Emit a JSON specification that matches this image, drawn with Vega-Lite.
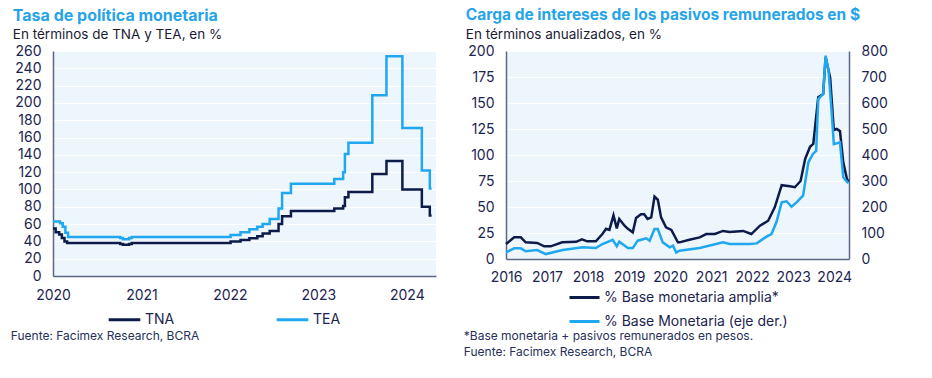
{
  "$schema": "https://vega.github.io/schema/vega-lite/v6.json",
  "padding": {"left": 10, "top": 7, "right": 5, "bottom": 5},
  "background": "white",
  "config": {
    "font": "Inter",
    "view": {"fill": "#eef6fd", "stroke": null},
    "axis": {"domainColor": "#5b6784", "domainWidth": 1.5, "ticks": false, "labelFont": "Inter", "labelFontSize": 14, "labelColor": "#1c2450", "title": null, "gridColor": "#ffffff", "gridWidth": 1, "labelFlush": false},
    "legend": {"symbolType": "M-1,0H1", "symbolStrokeWidth": 3, "symbolSize": 1000, "labelFont": "Inter", "labelFontSize": 14, "labelColor": "#1c2450", "title": null, "labelOffset": 3, "rowPadding": 3, "labelLimit": 400, "layout": {"bottom": {"anchor": "middle"}}},
    "title": {"anchor": "start", "frame": "bounds", "font": "Inter", "fontSize": 16, "fontWeight": "bold", "color": "#27a4e8", "subtitleFont": "Inter", "subtitleFontSize": 13.5, "subtitleColor": "#1b1b35", "subtitlePadding": 4, "offset": 3, "dx": -2},
    "concat": {"spacing": 26}
  },
  "resolve": {"scale": {"color": "independent"}, "legend": {"color": "independent"}},
  "hconcat": [
    {
      "title": {"text": "Fuente: Facimex Research, BCRA", "orient": "bottom", "anchor": "start", "frame": "bounds", "fontSize": 12, "fontWeight": "normal", "color": "#27305a", "offset": 4},
      "resolve": {"scale": {"color": "independent"}, "legend": {"color": "independent"}},
      "vconcat": [
        {
          "width": 383,
          "height": 225,
          "title": {"text": "Tasa de política monetaria", "subtitle": "En términos de TNA y TEA, en %"},
          "data": {"values": [
            {"serie": "TNA", "anio": 2020.0, "tasa": 55},
            {"serie": "TNA", "anio": 2020.03, "tasa": 50.5},
            {"serie": "TNA", "anio": 2020.07, "tasa": 48},
            {"serie": "TNA", "anio": 2020.1, "tasa": 44},
            {"serie": "TNA", "anio": 2020.13, "tasa": 40},
            {"serie": "TNA", "anio": 2020.16, "tasa": 38},
            {"serie": "TNA", "anio": 2020.76, "tasa": 37},
            {"serie": "TNA", "anio": 2020.79, "tasa": 36},
            {"serie": "TNA", "anio": 2020.86, "tasa": 37},
            {"serie": "TNA", "anio": 2020.89, "tasa": 38},
            {"serie": "TNA", "anio": 2022.008, "tasa": 40},
            {"serie": "TNA", "anio": 2022.12, "tasa": 41.5},
            {"serie": "TNA", "anio": 2022.22, "tasa": 43.5},
            {"serie": "TNA", "anio": 2022.31, "tasa": 46},
            {"serie": "TNA", "anio": 2022.37, "tasa": 49},
            {"serie": "TNA", "anio": 2022.45, "tasa": 52},
            {"serie": "TNA", "anio": 2022.55, "tasa": 60},
            {"serie": "TNA", "anio": 2022.59, "tasa": 69},
            {"serie": "TNA", "anio": 2022.69, "tasa": 75},
            {"serie": "TNA", "anio": 2023.18, "tasa": 78},
            {"serie": "TNA", "anio": 2023.28, "tasa": 81},
            {"serie": "TNA", "anio": 2023.3, "tasa": 91},
            {"serie": "TNA", "anio": 2023.34, "tasa": 97},
            {"serie": "TNA", "anio": 2023.61, "tasa": 118},
            {"serie": "TNA", "anio": 2023.77, "tasa": 133},
            {"serie": "TNA", "anio": 2023.95, "tasa": 100},
            {"serie": "TNA", "anio": 2024.17, "tasa": 80},
            {"serie": "TNA", "anio": 2024.26, "tasa": 70},
            {"serie": "TNA", "anio": 2024.28, "tasa": 70},
            {"serie": "TEA", "anio": 2020.0, "tasa": 63},
            {"serie": "TEA", "anio": 2020.08, "tasa": 61},
            {"serie": "TEA", "anio": 2020.11, "tasa": 57},
            {"serie": "TEA", "anio": 2020.14, "tasa": 50},
            {"serie": "TEA", "anio": 2020.17, "tasa": 45},
            {"serie": "TEA", "anio": 2020.76, "tasa": 44},
            {"serie": "TEA", "anio": 2020.79, "tasa": 42.5},
            {"serie": "TEA", "anio": 2020.86, "tasa": 44},
            {"serie": "TEA", "anio": 2020.89, "tasa": 45},
            {"serie": "TEA", "anio": 2022.008, "tasa": 47.5},
            {"serie": "TEA", "anio": 2022.12, "tasa": 50.5},
            {"serie": "TEA", "anio": 2022.22, "tasa": 54},
            {"serie": "TEA", "anio": 2022.31, "tasa": 57},
            {"serie": "TEA", "anio": 2022.37, "tasa": 60},
            {"serie": "TEA", "anio": 2022.45, "tasa": 66},
            {"serie": "TEA", "anio": 2022.55, "tasa": 78},
            {"serie": "TEA", "anio": 2022.59, "tasa": 96},
            {"serie": "TEA", "anio": 2022.69, "tasa": 106.5},
            {"serie": "TEA", "anio": 2023.18, "tasa": 112},
            {"serie": "TEA", "anio": 2023.28, "tasa": 120},
            {"serie": "TEA", "anio": 2023.3, "tasa": 141},
            {"serie": "TEA", "anio": 2023.34, "tasa": 154},
            {"serie": "TEA", "anio": 2023.61, "tasa": 209},
            {"serie": "TEA", "anio": 2023.77, "tasa": 254},
            {"serie": "TEA", "anio": 2023.95, "tasa": 171},
            {"serie": "TEA", "anio": 2024.17, "tasa": 122},
            {"serie": "TEA", "anio": 2024.26, "tasa": 101},
            {"serie": "TEA", "anio": 2024.28, "tasa": 101}
          ]},
          "mark": {"type": "line", "interpolate": "step-after", "strokeWidth": 2.5},
          "encoding": {
            "x": {"field": "anio", "type": "quantitative", "scale": {"domain": [2020, 2024.33], "nice": false, "zero": false}, "axis": {"values": [2020, 2021, 2022, 2023, 2024], "format": "d", "grid": false, "labelPadding": 12}},
            "y": {"field": "tasa", "type": "quantitative", "scale": {"domain": [0, 260], "nice": false}, "axis": {"values": [0, 20, 40, 60, 80, 100, 120, 140, 160, 180, 200, 220, 240, 260], "labelPadding": 12}},
            "color": {"field": "serie", "type": "nominal", "scale": {"domain": ["TNA", "TEA"], "range": ["#0d1b4b", "#1fa7ef"]}, "legend": {"orient": "none", "direction": "horizontal", "columnPadding": 95, "legendX": 54, "legendY": 251, "labelBaseline": "middle"}}
          }
        }
      ]
    },
    {
      "title": {"text": ["*Base monetaria + pasivos remunerados en pesos.", "Fuente: Facimex Research, BCRA"], "orient": "bottom", "anchor": "start", "frame": "bounds", "fontSize": 12, "fontWeight": "normal", "color": "#27305a", "offset": 2, "lineHeight": 16},
      "resolve": {"scale": {"color": "independent"}, "legend": {"color": "independent"}},
      "vconcat": [
        {
          "width": 343,
          "height": 208,
          "title": {"text": "Carga de intereses de los pasivos remunerados en $", "subtitle": "En términos anualizados, en %", "fontSize": 15.5},
          "data": {"values": [
            {"serie": "% Base monetaria amplia*", "anio": 2016.0, "valor": 14.4},
            {"serie": "% Base monetaria amplia*", "anio": 2016.2, "valor": 20.8},
            {"serie": "% Base monetaria amplia*", "anio": 2016.36, "valor": 20.8},
            {"serie": "% Base monetaria amplia*", "anio": 2016.48, "valor": 16},
            {"serie": "% Base monetaria amplia*", "anio": 2016.76, "valor": 15.5},
            {"serie": "% Base monetaria amplia*", "anio": 2016.93, "valor": 12.2},
            {"serie": "% Base monetaria amplia*", "anio": 2017.09, "valor": 12.2},
            {"serie": "% Base monetaria amplia*", "anio": 2017.37, "valor": 16},
            {"serie": "% Base monetaria amplia*", "anio": 2017.71, "valor": 16.5},
            {"serie": "% Base monetaria amplia*", "anio": 2017.85, "valor": 19},
            {"serie": "% Base monetaria amplia*", "anio": 2017.98, "valor": 17},
            {"serie": "% Base monetaria amplia*", "anio": 2018.19, "valor": 17},
            {"serie": "% Base monetaria amplia*", "anio": 2018.35, "valor": 24},
            {"serie": "% Base monetaria amplia*", "anio": 2018.44, "valor": 29},
            {"serie": "% Base monetaria amplia*", "anio": 2018.52, "valor": 28},
            {"serie": "% Base monetaria amplia*", "anio": 2018.62, "valor": 42},
            {"serie": "% Base monetaria amplia*", "anio": 2018.7, "valor": 29.5},
            {"serie": "% Base monetaria amplia*", "anio": 2018.76, "valor": 38.5},
            {"serie": "% Base monetaria amplia*", "anio": 2018.89, "valor": 32},
            {"serie": "% Base monetaria amplia*", "anio": 2018.97, "valor": 29},
            {"serie": "% Base monetaria amplia*", "anio": 2019.09, "valor": 25.6},
            {"serie": "% Base monetaria amplia*", "anio": 2019.17, "valor": 39.4},
            {"serie": "% Base monetaria amplia*", "anio": 2019.29, "valor": 43},
            {"serie": "% Base monetaria amplia*", "anio": 2019.37, "valor": 43},
            {"serie": "% Base monetaria amplia*", "anio": 2019.45, "valor": 38.5},
            {"serie": "% Base monetaria amplia*", "anio": 2019.54, "valor": 40},
            {"serie": "% Base monetaria amplia*", "anio": 2019.62, "valor": 60},
            {"serie": "% Base monetaria amplia*", "anio": 2019.7, "valor": 57},
            {"serie": "% Base monetaria amplia*", "anio": 2019.78, "valor": 40},
            {"serie": "% Base monetaria amplia*", "anio": 2019.9, "valor": 30.4},
            {"serie": "% Base monetaria amplia*", "anio": 2020.03, "valor": 28},
            {"serie": "% Base monetaria amplia*", "anio": 2020.15, "valor": 19},
            {"serie": "% Base monetaria amplia*", "anio": 2020.19, "valor": 16},
            {"serie": "% Base monetaria amplia*", "anio": 2020.23, "valor": 16},
            {"serie": "% Base monetaria amplia*", "anio": 2020.47, "valor": 18.5},
            {"serie": "% Base monetaria amplia*", "anio": 2020.72, "valor": 20.8},
            {"serie": "% Base monetaria amplia*", "anio": 2020.88, "valor": 24},
            {"serie": "% Base monetaria amplia*", "anio": 2021.09, "valor": 24},
            {"serie": "% Base monetaria amplia*", "anio": 2021.29, "valor": 27},
            {"serie": "% Base monetaria amplia*", "anio": 2021.45, "valor": 26},
            {"serie": "% Base monetaria amplia*", "anio": 2021.78, "valor": 27},
            {"serie": "% Base monetaria amplia*", "anio": 2021.98, "valor": 24},
            {"serie": "% Base monetaria amplia*", "anio": 2022.19, "valor": 32},
            {"serie": "% Base monetaria amplia*", "anio": 2022.39, "valor": 36.8},
            {"serie": "% Base monetaria amplia*", "anio": 2022.55, "valor": 49.7},
            {"serie": "% Base monetaria amplia*", "anio": 2022.72, "valor": 71},
            {"serie": "% Base monetaria amplia*", "anio": 2022.92, "valor": 70},
            {"serie": "% Base monetaria amplia*", "anio": 2023.04, "valor": 69},
            {"serie": "% Base monetaria amplia*", "anio": 2023.18, "valor": 75},
            {"serie": "% Base monetaria amplia*", "anio": 2023.29, "valor": 96},
            {"serie": "% Base monetaria amplia*", "anio": 2023.41, "valor": 108},
            {"serie": "% Base monetaria amplia*", "anio": 2023.49, "valor": 110.6},
            {"serie": "% Base monetaria amplia*", "anio": 2023.61, "valor": 155.5},
            {"serie": "% Base monetaria amplia*", "anio": 2023.73, "valor": 158.6},
            {"serie": "% Base monetaria amplia*", "anio": 2023.79, "valor": 194},
            {"serie": "% Base monetaria amplia*", "anio": 2023.9, "valor": 174.7},
            {"serie": "% Base monetaria amplia*", "anio": 2023.99, "valor": 124},
            {"serie": "% Base monetaria amplia*", "anio": 2024.06, "valor": 125},
            {"serie": "% Base monetaria amplia*", "anio": 2024.14, "valor": 123},
            {"serie": "% Base monetaria amplia*", "anio": 2024.22, "valor": 93},
            {"serie": "% Base monetaria amplia*", "anio": 2024.31, "valor": 77},
            {"serie": "% Base monetaria amplia*", "anio": 2024.35, "valor": 74},
            {"serie": "% Base Monetaria (eje der.)", "anio": 2016.0, "valor": 25.6},
            {"serie": "% Base Monetaria (eje der.)", "anio": 2016.2, "valor": 41},
            {"serie": "% Base Monetaria (eje der.)", "anio": 2016.36, "valor": 41},
            {"serie": "% Base Monetaria (eje der.)", "anio": 2016.48, "valor": 29.5},
            {"serie": "% Base Monetaria (eje der.)", "anio": 2016.76, "valor": 34.6},
            {"serie": "% Base Monetaria (eje der.)", "anio": 2016.97, "valor": 19},
            {"serie": "% Base Monetaria (eje der.)", "anio": 2017.38, "valor": 34.6},
            {"serie": "% Base Monetaria (eje der.)", "anio": 2017.87, "valor": 45},
            {"serie": "% Base Monetaria (eje der.)", "anio": 2018.19, "valor": 42},
            {"serie": "% Base Monetaria (eje der.)", "anio": 2018.35, "valor": 57.7},
            {"serie": "% Base Monetaria (eje der.)", "anio": 2018.6, "valor": 74},
            {"serie": "% Base Monetaria (eje der.)", "anio": 2018.7, "valor": 49},
            {"serie": "% Base Monetaria (eje der.)", "anio": 2018.76, "valor": 66.7},
            {"serie": "% Base Monetaria (eje der.)", "anio": 2018.97, "valor": 42},
            {"serie": "% Base Monetaria (eje der.)", "anio": 2019.09, "valor": 42},
            {"serie": "% Base Monetaria (eje der.)", "anio": 2019.21, "valor": 70.5},
            {"serie": "% Base Monetaria (eje der.)", "anio": 2019.42, "valor": 79.5},
            {"serie": "% Base Monetaria (eje der.)", "anio": 2019.5, "valor": 70},
            {"serie": "% Base Monetaria (eje der.)", "anio": 2019.62, "valor": 115},
            {"serie": "% Base Monetaria (eje der.)", "anio": 2019.7, "valor": 115},
            {"serie": "% Base Monetaria (eje der.)", "anio": 2019.82, "valor": 64},
            {"serie": "% Base Monetaria (eje der.)", "anio": 2019.99, "valor": 45},
            {"serie": "% Base Monetaria (eje der.)", "anio": 2020.07, "valor": 51},
            {"serie": "% Base Monetaria (eje der.)", "anio": 2020.15, "valor": 25},
            {"serie": "% Base Monetaria (eje der.)", "anio": 2020.23, "valor": 32},
            {"serie": "% Base Monetaria (eje der.)", "anio": 2020.72, "valor": 42},
            {"serie": "% Base Monetaria (eje der.)", "anio": 2021.29, "valor": 64},
            {"serie": "% Base Monetaria (eje der.)", "anio": 2021.45, "valor": 57.7},
            {"serie": "% Base Monetaria (eje der.)", "anio": 2021.94, "valor": 57.7},
            {"serie": "% Base Monetaria (eje der.)", "anio": 2022.11, "valor": 60},
            {"serie": "% Base Monetaria (eje der.)", "anio": 2022.35, "valor": 86},
            {"serie": "% Base Monetaria (eje der.)", "anio": 2022.47, "valor": 96},
            {"serie": "% Base Monetaria (eje der.)", "anio": 2022.59, "valor": 141},
            {"serie": "% Base Monetaria (eje der.)", "anio": 2022.72, "valor": 218},
            {"serie": "% Base Monetaria (eje der.)", "anio": 2022.84, "valor": 222},
            {"serie": "% Base Monetaria (eje der.)", "anio": 2022.96, "valor": 201},
            {"serie": "% Base Monetaria (eje der.)", "anio": 2023.08, "valor": 218},
            {"serie": "% Base Monetaria (eje der.)", "anio": 2023.24, "valor": 243.5},
            {"serie": "% Base Monetaria (eje der.)", "anio": 2023.37, "valor": 372},
            {"serie": "% Base Monetaria (eje der.)", "anio": 2023.48, "valor": 404},
            {"serie": "% Base Monetaria (eje der.)", "anio": 2023.56, "valor": 416},
            {"serie": "% Base Monetaria (eje der.)", "anio": 2023.61, "valor": 615},
            {"serie": "% Base Monetaria (eje der.)", "anio": 2023.73, "valor": 635},
            {"serie": "% Base Monetaria (eje der.)", "anio": 2023.79, "valor": 782},
            {"serie": "% Base Monetaria (eje der.)", "anio": 2023.86, "valor": 724},
            {"serie": "% Base Monetaria (eje der.)", "anio": 2023.94, "valor": 558},
            {"serie": "% Base Monetaria (eje der.)", "anio": 2023.99, "valor": 442},
            {"serie": "% Base Monetaria (eje der.)", "anio": 2024.14, "valor": 449},
            {"serie": "% Base Monetaria (eje der.)", "anio": 2024.22, "valor": 314},
            {"serie": "% Base Monetaria (eje der.)", "anio": 2024.31, "valor": 297},
            {"serie": "% Base Monetaria (eje der.)", "anio": 2024.35, "valor": 292}
          ]},
          "encoding": {
            "x": {"field": "anio", "type": "quantitative", "scale": {"domain": [2016, 2024.36], "nice": false, "zero": false}, "axis": {"values": [2016, 2017, 2018, 2019, 2020, 2021, 2022, 2023, 2024], "format": "d", "grid": false, "labelPadding": 11}},
            "color": {"field": "serie", "type": "nominal", "scale": {"domain": ["% Base monetaria amplia*", "% Base Monetaria (eje der.)"], "range": ["#0d1b4b", "#1fa7ef"]}, "legend": {"orient": "bottom", "direction": "vertical", "offset": -3, "symbolSize": 900, "rowPadding": -12}}
          },
          "layer": [
            {
              "transform": [{"filter": "datum.serie === '% Base monetaria amplia*'"}],
              "mark": {"type": "line", "strokeWidth": 2.5},
              "encoding": {
                "y": {"field": "valor", "type": "quantitative", "scale": {"domain": [0, 200], "nice": false}, "axis": {"orient": "left", "values": [0, 25, 50, 75, 100, 125, 150, 175, 200], "labelPadding": 12}}
              }
            },
            {
              "transform": [{"filter": "datum.serie === '% Base Monetaria (eje der.)'"}],
              "mark": {"type": "line", "strokeWidth": 2.5},
              "encoding": {
                "y": {"field": "valor", "type": "quantitative", "scale": {"domain": [0, 800], "nice": false}, "axis": {"orient": "right", "values": [0, 100, 200, 300, 400, 500, 600, 700, 800], "grid": false, "labelPadding": 12}}
              }
            }
          ],
          "resolve": {"scale": {"y": "independent"}}
        }
      ]
    }
  ]
}
